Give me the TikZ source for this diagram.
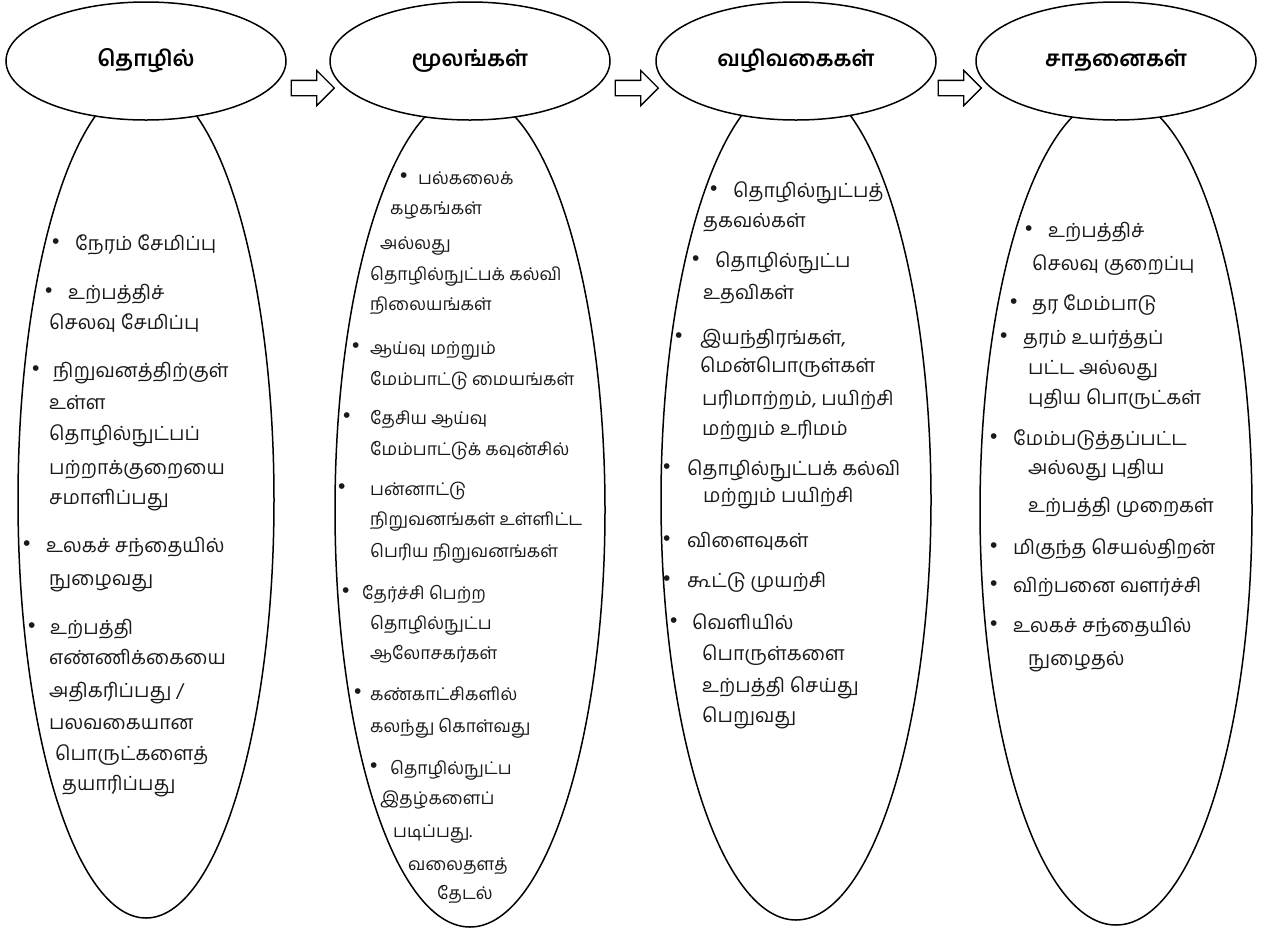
\documentclass[tikz,border=0pt]{standalone}
\usepackage{fontspec}
\setmainfont[Script=Tamil]{Hind Madurai}
\newfontfamily\bulfont{Liberation Sans}
\usetikzlibrary{shapes.geometric,shapes.arrows}
\begin{document}
\begin{tikzpicture}[x=1pt,y=-1pt,
  tall/.style={draw, ellipse, line width=1.5pt, inner sep=0pt},
  head/.style={draw, ellipse, fill=white, line width=1.5pt, inner sep=0pt,
    minimum width=280pt, minimum height=118pt,
    font=\fontsize{22}{26}\selectfont\bfseries},
  blk/.style={single arrow, draw, fill=white, line width=1.3pt,
    minimum height=43pt, inner xsep=0pt, inner ysep=7pt,
    single arrow head extend=10pt},
  ln/.style={anchor=mid west, inner sep=0pt, text=black!90,
    font=\fontsize{19.5}{22}\selectfont},
  lns/.style={anchor=mid west, inner sep=0pt, text=black!90,
    font=\fontsize{17.5}{20}\selectfont},
  bt/.style={anchor=mid west, inner sep=0pt, text=black!90,
    font=\bulfont\fontsize{21}{22}\selectfont}
]
\useasboundingbox (0,0) rectangle (1266,930);
\fill[white] (0,0) rectangle (1266,930);

% tall ellipses
\node[tall, minimum width=256pt, minimum height=836pt] (t1) at (146,500) {};
\node[tall, minimum width=270pt, minimum height=834pt] (t2) at (470,510) {};
\node[tall, minimum width=270pt, minimum height=840pt] (t3) at (796,500) {};
\node[tall, minimum width=272pt, minimum height=830pt] (t4) at (1116,510) {};

% header ellipses
\node[head] (h1) at (146,61) {தொழில்};
\node[head] (h2) at (470,61) {மூலங்கள்};
\node[head] (h3) at (796,61) {வழிவகைகள்};
\node[head] (h4) at (1116,61) {சாதனைகள்};

% block arrows
\node[blk] (a1) at (309,88) {};
\node[blk] (a2) at (633,88) {};
\node[blk] (a3) at (956,88) {};

% column 1
\node[bt] (b11) at (52,246) {•};
\node[ln] (c1a) at (75,248) {நேரம் சேமிப்பு};
\node[bt] (b12) at (45,295) {•};
\node[ln] (c1b) at (68,297) {உற்பத்திச்};
\node[ln] (c1c) at (49,327) {செலவு சேமிப்பு};
\node[bt] (b13) at (32,373) {•};
\node[ln] (c1d) at (53,375) {நிறுவனத்திற்குள்};
\node[ln] (c1e) at (49,407) {உள்ள};
\node[ln] (c1f) at (49,438) {தொழில்நுட்பப்};
\node[ln] (c1g) at (49,472) {பற்றாக்குறையை};
\node[ln] (c1h) at (49,502) {சமாளிப்பது};
\node[bt] (b14) at (23,548) {•};
\node[ln] (c1i) at (46,550) {உலகச் சந்தையில்};
\node[ln] (c1j) at (49,583) {நுழைவது};
\node[bt] (b15) at (28,630) {•};
\node[ln] (c1k) at (50,632) {உற்பத்தி};
\node[ln] (c1l) at (49,662) {எண்ணிக்கையை};
\node[ln] (c1m) at (49,695) {அதிகரிப்பது /};
\node[ln] (c1n) at (49,727) {பலவகையான};
\node[ln] (c1o) at (55,758) {பொருட்களைத்};
\node[ln] (c1p) at (62,788) {தயாரிப்பது};

% column 2
\node[bt] (b21) at (400,180) {•};
\node[lns] (c2a) at (418,182) {பல்கலைக்};
\node[lns] (c2b) at (390,212) {கழகங்கள்};
\node[lns] (c2c) at (380,247) {அல்லது};
\node[lns] (c2d) at (370,278) {தொழில்நுட்பக் கல்வி};
\node[lns] (c2e) at (370,308) {நிலையங்கள்};
\node[bt] (b22) at (352,350) {•};
\node[lns] (c2f) at (370,352) {ஆய்வு மற்றும்};
\node[lns] (c2g) at (370,383) {மேம்பாட்டு மையங்கள்};
\node[bt] (b23) at (343,420) {•};
\node[lns] (c2h) at (370,422) {தேசிய ஆய்வு};
\node[lns] (c2i) at (370,453) {மேம்பாட்டுக் கவுன்சில்};
\node[bt] (b24) at (338,491) {•};
\node[lns] (c2j) at (370,493) {பன்னாட்டு};
\node[lns] (c2k) at (370,523) {நிறுவனங்கள் உள்ளிட்ட};
\node[lns] (c2l) at (370,555) {பெரிய நிறுவனங்கள்};
\node[bt] (b25) at (342,595) {•};
\node[lns] (c2m) at (362,597) {தேர்ச்சி பெற்ற};
\node[lns] (c2n) at (370,627) {தொழில்நுட்ப};
\node[lns] (c2o) at (370,657) {ஆலோசகர்கள்};
\node[bt] (b26) at (354,696) {•};
\node[lns] (c2p) at (370,698) {கண்காட்சிகளில்};
\node[lns] (c2q) at (370,730) {கலந்து கொள்வது};
\node[bt] (b27) at (370,770) {•};
\node[lns] (c2r) at (390,772) {தொழில்நுட்ப};
\node[lns] (c2s) at (380,802) {இதழ்களைப்};
\node[lns] (c2t) at (393,835) {படிப்பது.};
\node[lns] (c2u) at (408,868) {வலைதளத்};
\node[lns] (c2v) at (437,897) {தேடல்};

% column 3
\node[bt] (b31) at (710,193) {•};
\node[ln] (c3a) at (733,195) {தொழில்நுட்பத்};
\node[ln] (c3b) at (703,225) {தகவல்கள்};
\node[bt] (b32) at (692,263) {•};
\node[ln] (c3c) at (715,265) {தொழில்நுட்ப};
\node[ln] (c3d) at (703,297) {உதவிகள்};
\node[bt] (b33) at (675,340) {•};
\node[ln] (c3e) at (700,342) {இயந்திரங்கள்,};
\node[ln] (c3f) at (700,370) {மென்பொருள்கள்};
\node[ln] (c3g) at (702,403) {பரிமாற்றம், பயிற்சி};
\node[ln] (c3h) at (702,433) {மற்றும் உரிமம்};
\node[bt] (b34) at (663,471) {•};
\node[ln] (c3i) at (687,473) {தொழில்நுட்பக் கல்வி};
\node[ln] (c3j) at (703,500) {மற்றும் பயிற்சி};
\node[bt] (b35) at (663,543) {•};
\node[ln] (c3k) at (687,545) {விளைவுகள்};
\node[bt] (b36) at (663,583) {•};
\node[ln] (c3l) at (687,585) {கூட்டு முயற்சி};
\node[bt] (b37) at (670,625) {•};
\node[ln] (c3m) at (692,627) {வெளியில்};
\node[ln] (c3n) at (702,658) {பொருள்களை};
\node[ln] (c3o) at (702,690) {உற்பத்தி செய்து};
\node[ln] (c3p) at (702,720) {பெறுவது};

% column 4
\node[bt] (b41) at (1025,233) {•};
\node[ln] (c4a) at (1048,235) {உற்பத்திச்};
\node[ln] (c4b) at (1032,268) {செலவு குறைப்பு};
\node[bt] (b42) at (1010,306) {•};
\node[ln] (c4c) at (1032,308) {தர மேம்பாடு};
\node[bt] (b43) at (1000,340) {•};
\node[ln] (c4d) at (1023,342) {தரம் உயர்த்தப்};
\node[ln] (c4e) at (1028,372) {பட்ட அல்லது};
\node[ln] (c4f) at (1028,402) {புதிய பொருட்கள்};
\node[bt] (b44) at (990,441) {•};
\node[ln] (c4g) at (1013,443) {மேம்படுத்தப்பட்ட};
\node[ln] (c4h) at (1028,472) {அல்லது புதிய};
\node[ln] (c4i) at (1028,510) {உற்பத்தி முறைகள்};
\node[bt] (b45) at (990,550) {•};
\node[ln] (c4j) at (1013,552) {மிகுந்த செயல்திறன்};
\node[bt] (b46) at (990,588) {•};
\node[ln] (c4k) at (1013,590) {விற்பனை வளர்ச்சி};
\node[bt] (b47) at (990,628) {•};
\node[ln] (c4l) at (1013,630) {உலகச் சந்தையில்};
\node[ln] (c4m) at (1028,663) {நுழைதல்};
\end{tikzpicture}
\end{document}
